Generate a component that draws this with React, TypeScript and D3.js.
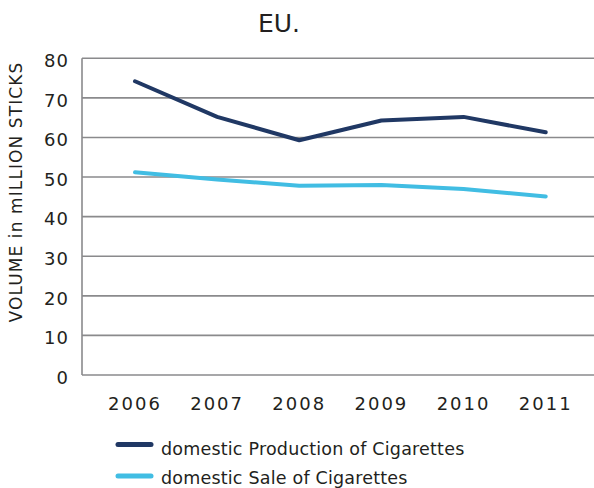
import React from "react";
import * as d3 from "d3";

const years = ["2006", "2007", "2008", "2009", "2010", "2011"];
const production = [74.2, 65.2, 59.3, 64.3, 65.2, 61.3];
const sales = [51.2, 49.4, 47.8, 48.0, 47.0, 45.1];
const yTicks = [0, 10, 20, 30, 40, 50, 60, 70, 80];
const seriesNames = ["domestic Production of Cigarettes", "domestic Sale of Cigarettes"];
const seriesColors = ["#203864", "#41bde3"];

export default function App() {
  const W = 594, H = 488;
  const left = 82, right = 594, top = 58.3, bottom = 375;
  const x = d3.scalePoint<string>().domain(years).range([135, 545.7]);
  const y = d3.scaleLinear().domain([0, 80]).range([bottom, top]);
  const line = d3.line<number>().x((_, i) => x(years[i])!).y((d) => y(d));
  const font = "'DejaVu Sans', sans-serif";
  const series = [production, sales];
  return (
    <svg width={W} height={H} style={{ position: "absolute", left: 0, top: 0 }} fontFamily={font}>
      <rect width={W} height={H} fill="#fff" />
      <text x={279} y={32} textAnchor="middle" fontSize={25} fill="#231f20">EU.</text>
      {yTicks.map((t) => (
        <g key={t}>
          <line x1={left} x2={right} y1={y(t)} y2={y(t)} stroke="#8a8a8c" strokeWidth={1.6} />
          <text x={69} y={y(t) + 2.5} dy="0.35em" textAnchor="end" fontSize={18} letterSpacing={1} fill="#231f20">{t}</text>
        </g>
      ))}
      <line x1={left} x2={left} y1={top} y2={bottom} stroke="#8a8a8c" strokeWidth={1.6} />
      <text transform={`translate(22,192) rotate(-90)`} textAnchor="middle" fontSize={17} letterSpacing={1.1} fill="#231f20">VOLUME in mILLION STICKS</text>
      {years.map((yr) => (
        <text key={yr} x={x(yr)!} y={410} textAnchor="middle" fontSize={18} letterSpacing={2} fill="#231f20">{yr}</text>
      ))}
      {series.map((s, i) => (
        <path key={i} d={line(s)!} fill="none" stroke={seriesColors[i]} strokeWidth={4} strokeLinecap="round" strokeLinejoin="round" />
      ))}
      {seriesNames.map((n, i) => (
        <g key={n}>
          <line x1={118} x2={151} y1={444.5 + i * 31.5} y2={444.5 + i * 31.5} stroke={seriesColors[i]} strokeWidth={5} strokeLinecap="round" />
          <text x={161} y={454.5 + i * 29} fontSize={17.5} letterSpacing={0.2} fill="#231f20">{n}</text>
        </g>
      ))}
    </svg>
  );
}
